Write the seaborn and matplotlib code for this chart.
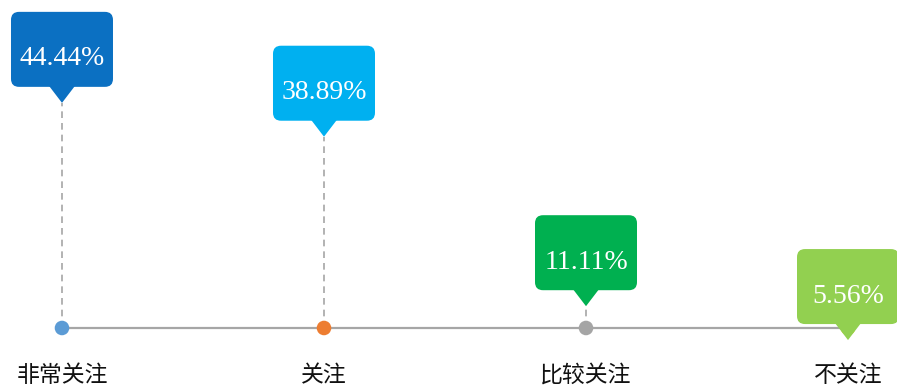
import matplotlib
matplotlib.use("Agg")
import matplotlib.pyplot as plt
import matplotlib.transforms as mtransforms
from matplotlib.patches import FancyBboxPatch, Polygon
import seaborn as sns
import pandas as pd

categories = ["非常关注", "关注", "比较关注", "不关注"]
values = [44.44, 38.89, 11.11, 5.56]
value_labels = ["44.44%", "38.89%", "11.11%", "5.56%"]
box_colors = ["#0B70C2", "#00B0F0", "#00B050", "#92D050"]
dot_colors = ["#5B9BD5", "#ED7D31", "#A5A5A5", "#FFC000"]

sns.set_theme(style="white")
plt.rcParams['font.family'] = ['Noto Sans CJK SC', 'DejaVu Sans']

fig = plt.figure(figsize=(8.97, 3.86), dpi=100)
ax = fig.add_axes([0, 0, 1, 1])
ax.set_xlim(-0.2366, 3.187)
ax.set_ylim(-1.97, 61.3)
ax.axis("off")

base = 7.54
pos = list(range(len(categories)))
df = pd.DataFrame({"x": pos, "y": [base] * len(pos), "cat": categories, "v": values})

# baseline
sns.lineplot(data=df, x="x", y="y", color="#A6A6A6", linewidth=1.6, ax=ax, zorder=1)

# dashed connectors
for xi, v in zip(pos, values):
    if v > base:
        ax.plot([xi, xi], [base, v], color="#A6A6A6", linewidth=1.2,
                dashes=(4, 3), zorder=2)

# dots
sns.scatterplot(data=df, x="x", y="y", hue="cat", palette=dot_colors, s=110,
                edgecolor="none", legend=False, ax=ax, zorder=3)

px = 0.01  # inch per pixel
for xi, v, lab, c, cat in zip(pos, values, value_labels, box_colors, categories):
    tr = fig.dpi_scale_trans + mtransforms.ScaledTranslation(xi, v, ax.transData)
    box = FancyBboxPatch((-51 * px, 16 * px), 102 * px, 75 * px,
                         boxstyle="round,pad=0,rounding_size=0.08",
                         facecolor=c, edgecolor="none", transform=tr, zorder=5)
    ax.add_patch(box)
    tri = Polygon([(-13 * px, 17 * px), (13 * px, 17 * px), (0, 0)], closed=True,
                  facecolor=c, edgecolor="none", transform=tr, zorder=5)
    ax.add_patch(tri)
    ax.text(0, 44 * px, lab, transform=tr, ha="center", va="center",
            color="white", fontsize=20, family=["Liberation Serif"], zorder=6)
    trl = fig.dpi_scale_trans + mtransforms.ScaledTranslation(xi, base, ax.transData)
    ax.text(0, -48 * px, cat, transform=trl, ha="center", va="center",
            color="#111111", fontsize=16.5, zorder=6)

fig.savefig("out.png", dpi=100)
